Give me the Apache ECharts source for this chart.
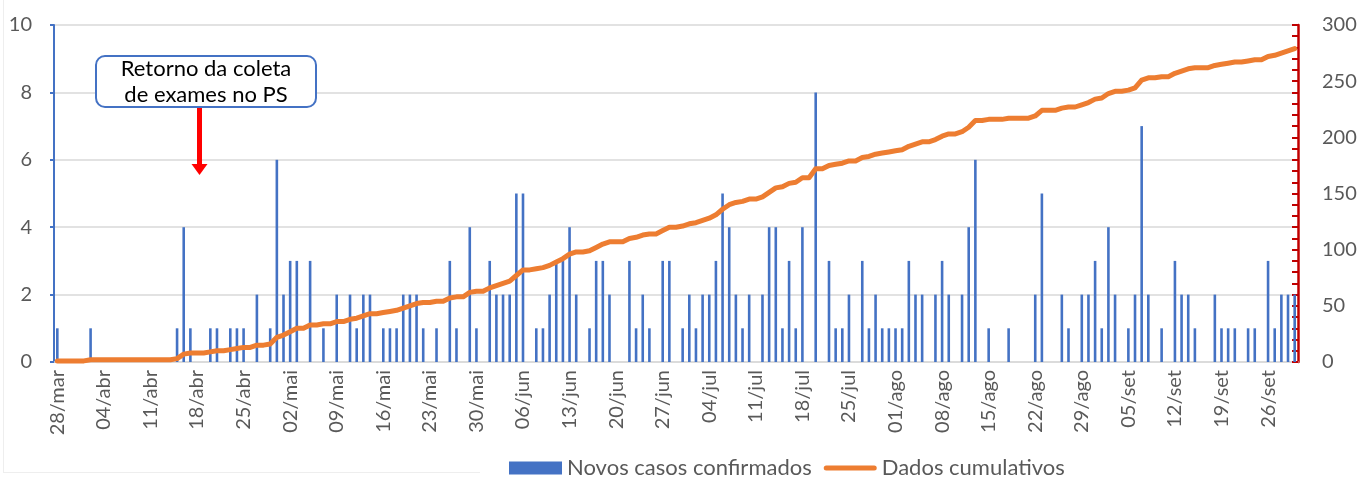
<!DOCTYPE html>
<html>
<head>
<meta charset="utf-8">
<script src="https://cdn.jsdelivr.net/npm/echarts@6/dist/echarts.min.js"></script>
<style>
  html, body { margin: 0; padding: 0; background: #fff; }
  #chart { width: 1363px; height: 478px; }
</style>
</head>
<body>
<div id="chart"></div>
<script>
// dias de 28/mar a 30/set
const startDay = [2020, 2, 28]
const dayCount = 187
const monthNames = ['jan', 'fev', 'mar', 'abr', 'mai', 'jun', 'jul', 'ago', 'set', 'out', 'nov', 'dez']

const novosCasos = [
  1, 0, 0, 0, 0, 1, 0, 0, 0, 0,
  0, 0, 0, 0, 0, 0, 0, 0, 1, 4,
  1, 0, 0, 1, 1, 0, 1, 1, 1, 0,
  2, 0, 1, 6, 2, 3, 3, 0, 3, 0,
  1, 0, 2, 0, 2, 1, 2, 2, 0, 1,
  1, 1, 2, 2, 2, 1, 0, 1, 0, 3,
  1, 0, 4, 1, 0, 3, 2, 2, 2, 5,
  5, 0, 1, 1, 2, 3, 3, 4, 2, 0,
  1, 3, 3, 2, 0, 0, 3, 1, 2, 1,
  0, 3, 3, 0, 1, 2, 1, 2, 2, 3,
  5, 4, 2, 1, 2, 0, 2, 4, 4, 1,
  3, 1, 4, 0, 8, 0, 3, 1, 1, 2,
  0, 3, 1, 2, 1, 1, 1, 1, 3, 2,
  2, 0, 2, 3, 2, 0, 2, 4, 6, 0,
  1, 0, 0, 1, 0, 0, 0, 2, 5, 0,
  0, 2, 1, 0, 2, 2, 3, 1, 4, 2,
  0, 1, 2, 7, 2, 0, 1, 0, 3, 2,
  2, 1, 0, 0, 2, 1, 1, 1, 0, 1,
  1, 0, 3, 1, 2, 2, 2
]

const cumulativos = [
  1, 1, 1, 1, 1, 2, 2, 2, 2, 2,
  2, 2, 2, 2, 2, 2, 2, 2, 3, 7,
  8, 8, 8, 9, 10, 10, 11, 12, 13, 13,
  15, 15, 16, 22, 24, 27, 30, 30, 33, 33,
  34, 34, 36, 36, 38, 39, 41, 43, 43, 44,
  45, 46, 48, 50, 52, 53, 53, 54, 54, 57,
  58, 58, 62, 63, 63, 66, 68, 70, 72, 77,
  82, 82, 83, 84, 86, 89, 92, 96, 98, 98,
  99, 102, 105, 107, 107, 107, 110, 111, 113, 114,
  114, 117, 120, 120, 121, 123, 124, 126, 128, 131,
  136, 140, 142, 143, 145, 145, 147, 151, 155, 156,
  159, 160, 164, 164, 172, 172, 175, 176, 177, 179,
  179, 182, 183, 185, 186, 187, 188, 189, 192, 194,
  196, 196, 198, 201, 203, 203, 205, 209, 215, 215,
  216, 216, 216, 217, 217, 217, 217, 219, 224, 224,
  224, 226, 227, 227, 229, 231, 234, 235, 239, 241,
  241, 242, 244, 251, 253, 253, 254, 254, 257, 259,
  261, 262, 262, 262, 264, 265, 266, 267, 267, 268,
  269, 269, 272, 273, 275, 277, 279
]

const categorias = []
for (let i = 0; i < dayCount; i++) {
  const d = new Date(Date.UTC(startDay[0], startDay[1], startDay[2] + i))
  const dd = String(d.getUTCDate()).padStart(2, '0')
  categorias.push(dd + '/' + monthNames[d.getUTCMonth()])
}

const fontFam = 'Lato, "Liberation Sans", sans-serif'
const gray = '#595959'
const lineIcon = 'path://M2.5,0 L50.5,0 A2.5,2.5 0 0 1 50.5,5 L2.5,5 A2.5,2.5 0 0 1 2.5,0 Z'

const chart = echarts.init(document.getElementById('chart'))
chart.setOption({
  animation: false,
  backgroundColor: '#fff',
  textStyle: { fontFamily: fontFam },
  grid: { left: 54, right: 65, top: 25, bottom: 116, containLabel: false },
  legend: {
    left: 504,
    top: 452,
    itemWidth: 53,
    itemHeight: 13,
    itemGap: 12,
    textStyle: { fontSize: 22, color: gray, fontFamily: fontFam },
    data: [
      { name: 'Novos casos confirmados', icon: 'rect' },
      { name: 'Dados cumulativos', icon: lineIcon }
    ]
  },
  xAxis: {
    type: 'category',
    data: categorias,
    boundaryGap: true,
    axisLine: { lineStyle: { color: '#d9d9d9', width: 1.5 } },
    axisTick: { show: false },
    axisLabel: {
      interval: (idx) => idx % 7 === 0,
      rotate: 90,
      margin: 8,
      fontSize: 20,
      color: gray,
      fontFamily: fontFam
    }
  },
  yAxis: [
    {
      type: 'value',
      min: 0,
      max: 10,
      interval: 2,
      axisLine: { show: true, lineStyle: { color: '#4472C4', width: 2 } },
      axisTick: { show: true, length: 4, lineStyle: { color: '#4472C4', width: 2 } },
      splitLine: { lineStyle: { color: '#d9d9d9', width: 1.5 } },
      axisLabel: { fontSize: 20, color: gray, margin: 22, fontFamily: fontFam }
    },
    {
      type: 'value',
      position: 'right',
      min: 0,
      max: 300,
      interval: 50,
      axisLine: { show: true, lineStyle: { color: '#C00000', width: 2.5 } },
      axisTick: { show: true, inside: true, length: 6, lineStyle: { color: '#C00000', width: 2 } },
      minorTick: { show: true, splitNumber: 5, length: 6, lineStyle: { color: '#C00000', width: 2 } },
      splitLine: { show: false },
      axisLabel: { fontSize: 20, color: gray, margin: 24, fontFamily: fontFam }
    }
  ],
  series: [
    {
      name: 'Novos casos confirmados',
      type: 'bar',
      yAxisIndex: 0,
      data: novosCasos,
      barWidth: 2.6,
      itemStyle: { color: '#4472C4' }
    },
    {
      name: 'Dados cumulativos',
      type: 'line',
      yAxisIndex: 1,
      data: cumulativos,
      symbol: 'none',
      z: 5,
      lineStyle: { color: '#ED7D31', width: 5, join: 'round', cap: 'round' },
      itemStyle: { color: '#ED7D31' }
    }
  ],
  graphic: [
    // moldura
    { type: 'line', shape: { x1: 3.5, y1: 0, x2: 3.5, y2: 472 }, style: { stroke: '#eeeeee', lineWidth: 1 }, silent: true },
    { type: 'line', shape: { x1: 3, y1: 472.5, x2: 480, y2: 472.5 }, style: { stroke: '#eeeeee', lineWidth: 1 }, silent: true },
    // anotacao
    {
      type: 'rect',
      shape: { x: 96, y: 56, width: 220, height: 51, r: 9 },
      style: { fill: '#fff', stroke: '#4472C4', lineWidth: 2 },
      z: 100
    },
    {
      type: 'text',
      x: 206,
      y: 82,
      style: {
        text: 'Retorno da coleta\nde exames no PS',
        fill: '#000',
        font: '22px ' + fontFam,
        align: 'center',
        verticalAlign: 'middle',
        lineHeight: 26
      },
      z: 101
    },
    { type: 'rect', shape: { x: 197, y: 108, width: 5, height: 58 }, style: { fill: '#FF0000' }, z: 100 },
    { type: 'polygon', shape: { points: [[191.5, 164], [207.5, 164], [199.5, 175]] }, style: { fill: '#FF0000' }, z: 100 }
  ]
})
</script>
</body>
</html>
